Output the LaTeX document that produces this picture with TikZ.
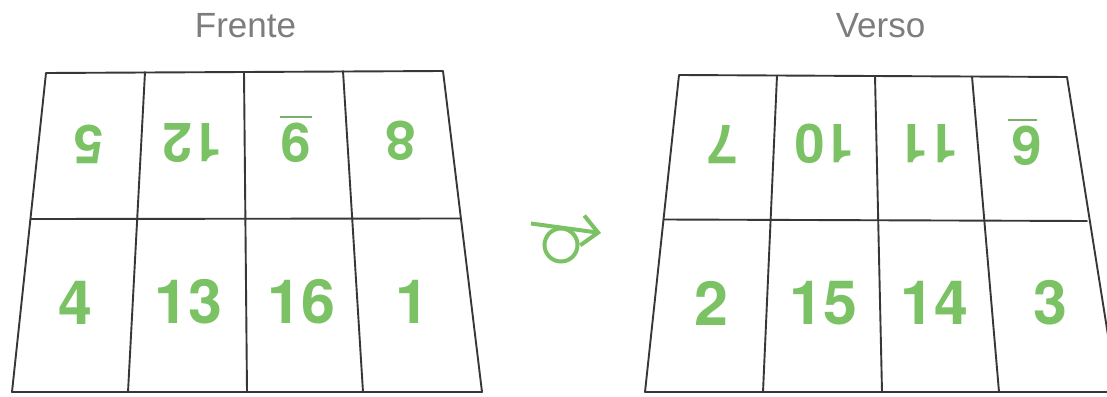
\documentclass[tikz,border=0pt]{standalone}
\usepackage{fontspec}
\setmainfont{Liberation Sans}
\newfontfamily\digitfont{TeX Gyre Heros}
\usetikzlibrary{arrows.meta}
\definecolor{num}{RGB}{122,194,100}
\definecolor{ttl}{RGB}{125,125,125}
\definecolor{gridc}{RGB}{55,55,55}
\tikzset{
  gridline/.style={draw=gridc, line width=1.9pt, line cap=round, line join=round},
  bignum/.style={text=num, font=\digitfont\fontsize{61}{61}\selectfont\bfseries, inner sep=0pt},
  smallnum/.style={text=num, font=\digitfont\fontsize{54}{54}\selectfont\bfseries, inner sep=0pt, rotate=180},
  titletext/.style={text=ttl, font=\fontsize{35}{35}\selectfont, inner sep=0pt},
  numbar/.style={draw=num!70!gray, line width=1.8pt},
  turn/.style={draw=num, line width=4pt}
}
\begin{document}
\begin{tikzpicture}[x=1pt,y=-1pt]
\useasboundingbox (0,0) rectangle (1107,396);
\clip (0,0) rectangle (1107,396);
\fill[white] (0,0) rectangle (1107,396);

% titles
\node[titletext] (frente) at (245.5,25.5) {Frente};
\node[titletext] (verso) at (880.5,25.5) {Verso};

% left grid
\draw[gridline] (46,73) -- (443,71) -- (482,392) -- (12,392) -- cycle;
\draw[gridline] (30.5,219) -- (460.5,218.5);
\draw[gridline] (145,72) -- (128,392);
\draw[gridline] (244,72) -- (247,392);
\draw[gridline] (343,71) -- (363,392);

% right grid
\draw[gridline] (679,75) -- (1067,77) -- (1117,392) -- (645,392) -- cycle;
\draw[gridline] (663.5,219.5) -- (1087,221);
\draw[gridline] (777,75.5) -- (763,392);
\draw[gridline] (875,76) -- (882,392);
\draw[gridline] (972,76.5) -- (999,392);

% left numbers
\node[smallnum] (f5) at (88.5,144) {5};
\node[smallnum] (f12) at (192.5,143.5) {12};
\node[smallnum] (f9) at (295.5,142.5) {9};
\node[smallnum] (f8) at (400,141) {8};
\draw[numbar] (279.5,116.7) -- (311.5,116.7);
\node[bignum] (f4) at (75.5,303) {4};
\node[bignum] (f13) at (188.5,302) {13};
\node[bignum] (f16) at (301,302) {16};
\node[bignum] (f1) at (412,302) {1};

% right numbers
\node[smallnum] (v7) at (722,145) {7};
\node[smallnum] (v10) at (824,144) {10};
\node[smallnum] (v11) at (928,144) {11};
\node[smallnum] (v6) at (1026.5,145.5) {6};
\draw[numbar] (1007.5,120) -- (1037,120);
\node[bignum] (v2) at (711,303) {2};
\node[bignum] (v15) at (823,303) {15};
\node[bignum] (v14) at (934,303) {14};
\node[bignum] (v3) at (1050,303) {3};

% turn symbol
\coordinate (ta) at (531,223.5);
\coordinate (tb) at (601,233);
\draw[turn, -{Straight Barb[length=16pt,width=30pt]}] (ta) -- (tb);
\draw[turn] (561,245) circle (16.5);
\end{tikzpicture}
\end{document}
